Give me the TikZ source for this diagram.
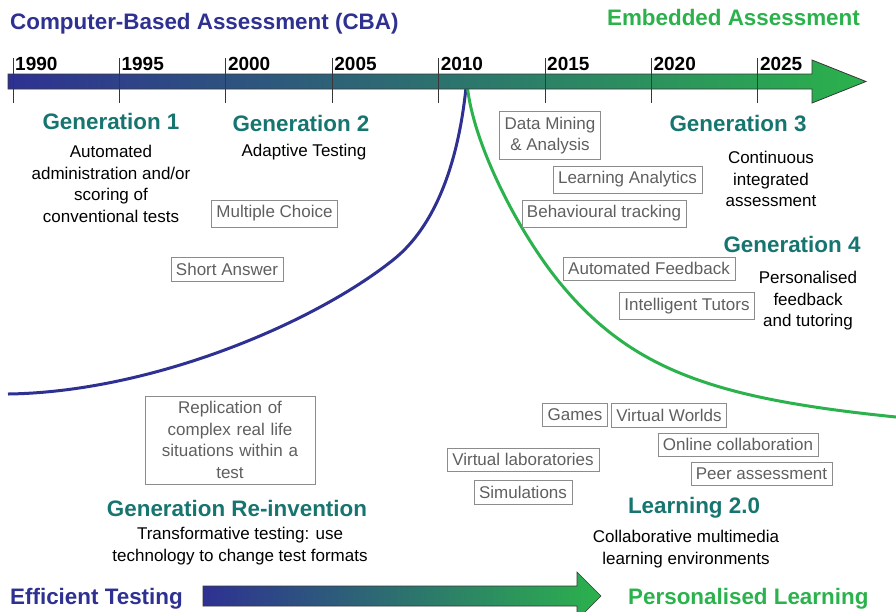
\documentclass[tikz,border=0pt]{standalone}
\usepackage{fontspec}
\setmainfont{Liberation Sans}
\usepackage{tikz}
\pgfdeclarelayer{background}
\pgfdeclarelayer{foreground}
\pgfsetlayers{background,main,foreground}
\definecolor{cbablue}{RGB}{46,49,146}
\definecolor{embgreen}{RGB}{43,178,76}
\definecolor{midteal}{RGB}{28,118,120}
\definecolor{genteal}{RGB}{23,117,112}
\definecolor{toolgray}{RGB}{95,95,95}
\definecolor{boxgray}{RGB}{140,140,140}
\definecolor{barline}{RGB}{55,55,55}
\tikzset{
  gentitle/.style={font=\fontsize{22.4}{26}\selectfont\bfseries, text=genteal, inner sep=0pt},
  gendesc/.style={font=\fontsize{17}{21.5}\selectfont, align=center, inner sep=0pt},
  toolbox/.style={draw=boxgray, text=toolgray, font=\fontsize{17}{21.5}\selectfont, inner xsep=5pt, inner ysep=5.5pt, align=center},
  yearlabel/.style={font=\fontsize{19}{21}\selectfont\bfseries, anchor=base west, inner sep=0pt},
  bigtitle/.style={font=\fontsize{22.4}{26}\selectfont\bfseries, inner sep=0pt}
}

\begin{document}
\begin{tikzpicture}[x=1pt,y=-1pt]
\useasboundingbox (0,0) rectangle (896,611);
\node[bigtitle, text=cbablue, anchor=base west] (cba) at (10,29) {Computer-Based Assessment (CBA)};
\node[bigtitle, text=embgreen, anchor=base east] (emb) at (860,25) {Embedded Assessment};

\shade[left color=cbablue, middle color=midteal, right color=embgreen, draw=barline, line width=0.8pt]
  (8,74) -- (812,74) -- (812,60) -- (866,81.5) -- (812,103) -- (812,89) -- (8,89) -- cycle;
\begin{pgfonlayer}{foreground}
\foreach \yr [count=\i from 0] in {1990,1995,...,2025} {
  \draw[barline, line width=0.8pt] ({13+106.4*\i},58) -- ({13+106.4*\i},103);
  \node[yearlabel] (y\yr) at ({15+106.4*\i},70) {\yr};
}
\end{pgfonlayer}

\begin{pgfonlayer}{background}
\coordinate (bluetop) at (467,77);
\coordinate (bluemid) at (393,260);
\coordinate (blueend) at (8,394);
\coordinate (greentop) at (467,83);
\coordinate (greenmid) at (560,283);
\coordinate (greenend) at (896,417);
\draw[cbablue, line width=3pt] (bluetop) .. controls (460,160) and (436,226) .. (bluemid)
  .. controls (312,324.5) and (150,392) .. (blueend);
\draw[embgreen, line width=3pt] (greentop) .. controls (472,143) and (519,233) .. (greenmid)
  .. controls (633,372) and (719,399) .. (greenend);
\end{pgfonlayer}

\node[gentitle] (gen1) at (111,121) {Generation 1};
\node[gendesc] (desc1) at (111,184) {Automated\\administration and/or\\scoring of\\conventional tests};
\node[gentitle] (gen2) at (301,123) {Generation 2};
\node[gendesc] (desc2) at (304,152) {Adaptive Testing};
\node[gentitle] (gen3) at (738,124) {Generation 3};
\node[gendesc] (desc3) at (771,179) {Continuous\\integrated\\assessment};
\node[gentitle] (gen4) at (792,244) {Generation 4};
\node[gendesc] (desc4) at (808,301) {Personalised\\feedback\\and tutoring};
\node[gentitle] (genre) at (237,508) {Generation Re-invention};
\node[gendesc] (descre) at (240,546) {Transformative testing: use\\technology to change test formats};
\node[gentitle] (learn) at (694,508) {Learning 2.0};
\node[gendesc] (desclearn) at (686,549) {Collaborative multimedia\\learning environments};

\node[toolbox] (mc) at (274.5,213.5) {Multiple Choice};
\node[toolbox] (sa) at (227,269) {Short Answer};
\node[toolbox] (dm) at (550,135.5) {Data Mining\\\& Analysis};
\node[toolbox] (la) at (627.5,179.5) {Learning Analytics};
\node[toolbox] (bt) at (604,213.5) {Behavioural tracking};
\node[toolbox] (af) at (649,268.5) {Automated Feedback};
\node[toolbox] (it) at (687,306) {Intelligent Tutors};
\node[toolbox, text width=156pt, inner xsep=7pt] (rep) at (230,440) {Replication of\\complex real life\\situations within a\\test};
\node[toolbox] (games) at (575,415) {Games};
\node[toolbox] (vw) at (669,415) {Virtual Worlds};
\node[toolbox] (oc) at (738,444.5) {Online collaboration};
\node[toolbox] (pa) at (761.5,473.5) {Peer assessment};
\node[toolbox] (vl) at (523,459.5) {Virtual laboratories};
\node[toolbox] (sim) at (523,492) {Simulations};

\node[bigtitle, text=cbablue, anchor=base west] (eff) at (10,604) {Efficient Testing};
\shade[left color=cbablue, middle color=midteal, right color=embgreen, draw=barline, line width=0.6pt]
  (203,586) -- (577,586) -- (577,572) -- (601,596) -- (577,620) -- (577,606) -- (203,606) -- cycle;
\node[bigtitle, text=embgreen, anchor=base west] (pers) at (628,604) {Personalised Learning};
\end{tikzpicture}
\end{document}
